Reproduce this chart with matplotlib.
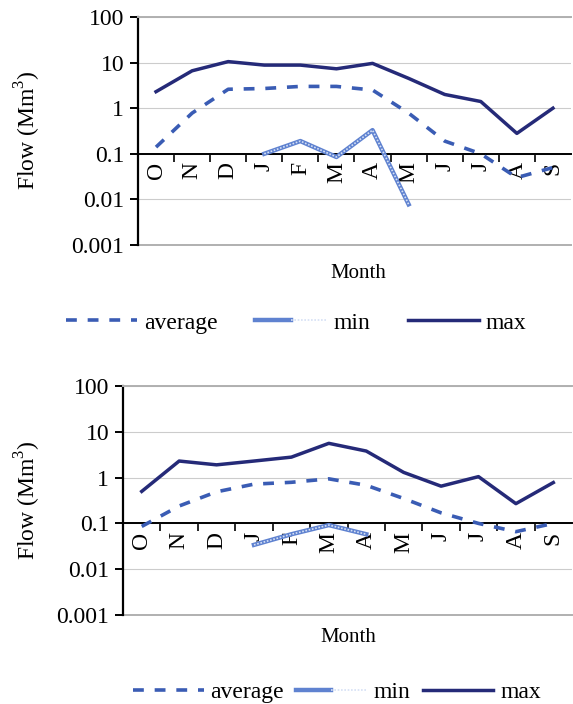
import numpy as np
import matplotlib
matplotlib.use("Agg")
from matplotlib import pyplot as plt
from matplotlib.ticker import FixedLocator, FuncFormatter, NullLocator, NullFormatter, FixedFormatter
from matplotlib.legend_handler import HandlerTuple

plt.rcParams['font.family'] = ['Liberation Serif', 'DejaVu Serif']
plt.rcParams['mathtext.fontset'] = 'custom'
plt.rcParams['mathtext.rm'] = 'Liberation Serif'

# 月份（十月开始的水文年）
months = ['O', 'N', 'D', 'J', 'F', 'M', 'A', 'M', 'J', 'J', 'A', 'S']

# 上图
avg_top = [0.14, 0.78, 2.6, 2.7, 3.0, 3.0, 2.5, 0.78, 0.19, 0.1, 0.03, 0.05]
min_top = [np.nan, np.nan, np.nan, 0.1, 0.19, 0.085, 0.33, 0.0078, np.nan, np.nan, np.nan, np.nan]
max_top = [2.3, 6.6, 10.5, 8.8, 8.8, 7.3, 9.6, 4.5, 2.0, 1.4, 0.28, 1.0]

# 下图
avg_bot = [0.086, 0.24, 0.49, 0.72, 0.79, 0.94, 0.68, 0.35, 0.17, 0.1, 0.066, 0.1]
min_bot = [np.nan, np.nan, np.nan, 0.034, 0.058, 0.092, 0.058, np.nan, np.nan, np.nan, np.nan, np.nan]
max_bot = [0.5, 2.3, 1.9, 2.3, 2.8, 5.6, 3.8, 1.3, 0.65, 1.05, 0.27, 0.78]

c_avg = '#3a5cb4'
c_min = '#5f82d0'
c_max = '#252a78'
FS = 17

fig = plt.figure(figsize=(5.73, 7.04), dpi=100)


def draw_panel(rect, avg, mn, mx):
    ax = fig.add_axes(rect)
    x = np.arange(len(months)) + 0.5
    ax.plot(x, mx, color=c_max, lw=2.5, solid_joinstyle='round', zorder=4)
    ax.plot(x, avg, color=c_avg, lw=2.6, ls=(0, (3, 3)), zorder=3)
    ax.plot(x, mn, color=c_min, lw=3.2, zorder=3)
    ax.plot(x, mn, color='#d5e0f5', lw=1.2, ls=(0, (1, 1)), zorder=3)

    ax.set_yscale('log')
    ax.set_ylim(0.001, 100)
    ax.set_xlim(0, len(months))
    ax.yaxis.set_major_locator(FixedLocator([0.001, 0.01, 0.1, 1, 10, 100]))
    ax.yaxis.set_minor_locator(NullLocator())
    ax.yaxis.set_major_formatter(FuncFormatter(lambda v, p: f'{v:g}'))
    ax.grid(axis='y', color='#cccccc', lw=0.8)
    ax.axhline(0.001, color='#b0b0b0', lw=1.4, clip_on=False)

    # x轴交于0.1
    ax.spines['bottom'].set_position(('data', 0.1))
    ax.spines['bottom'].set_linewidth(1.4)
    ax.spines['left'].set_linewidth(1.6)
    ax.spines['top'].set_color('#b0b0b0')
    ax.spines['top'].set_linewidth(1.4)
    ax.spines['right'].set_visible(False)

    ax.xaxis.set_major_locator(FixedLocator(np.arange(1, len(months))))
    ax.xaxis.set_major_formatter(NullFormatter())
    ax.xaxis.set_minor_locator(FixedLocator(x))
    ax.xaxis.set_minor_formatter(FixedFormatter(months))
    ax.tick_params(axis='x', which='major', length=6, width=1.2, direction='out')
    ax.tick_params(axis='x', which='minor', length=0, pad=6, labelsize=FS, labelrotation=90)
    ax.tick_params(axis='y', length=6, width=1.4, direction='out', labelsize=FS, pad=4)
    return ax


draw_panel([0.2408, 0.652, 0.7557, 0.3239], avg_top, min_top, max_top)
draw_panel([0.2147, 0.1264, 0.7836, 0.3253], avg_bot, min_bot, max_bot)

ylab = r'Flow (Mm$^{\mathrm{3}}$)'
fig.text(28 / 573, 1 - 130 / 704, ylab, rotation=90, ha='center', va='center', fontsize=FS)
fig.text(28 / 573, 1 - 500 / 704, ylab, rotation=90, ha='center', va='center', fontsize=FS)
fig.text(358 / 573, 1 - 274 / 704, 'Month', ha='center', va='center', fontsize=15)
fig.text(348 / 573, 1 - 638 / 704, 'Month', ha='center', va='center', fontsize=15)

h_avg = plt.Line2D([], [], color=c_avg, lw=2.6, ls=(0, (3, 3)))
h_min = (plt.Line2D([], [], color=c_min, lw=3.2),
         plt.Line2D([], [], color='#d5e0f5', lw=1.2, ls=(0, (1, 1))))
h_max = plt.Line2D([], [], color=c_max, lw=2.5)
labels = ['average', 'min', 'max']

fig.legend([h_avg, h_min, h_max], labels, loc='center', bbox_to_anchor=(0.517, 1 - 323 / 704),
           ncol=3, frameon=False, fontsize=FS, handlelength=3.0, handletextpad=0.3,
           columnspacing=1.6, borderpad=0, handler_map={tuple: HandlerTuple(ndivide=None)})
fig.legend([h_avg, h_min, h_max], labels, loc='center', bbox_to_anchor=(0.588, 1 - 692 / 704),
           ncol=3, frameon=False, fontsize=FS, handlelength=3.0, handletextpad=0.3,
           columnspacing=0.5, borderpad=0, handler_map={tuple: HandlerTuple(ndivide=None)})

fig.savefig('out.png', dpi=100)
